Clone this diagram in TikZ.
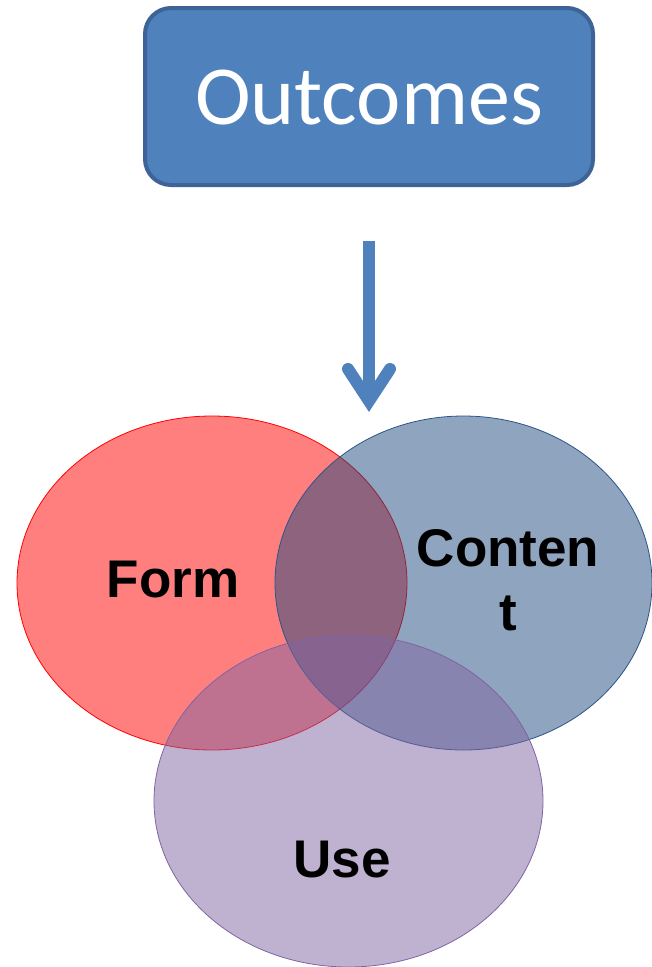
\documentclass[tikz,border=0pt]{standalone}
\usepackage{fontspec}
\setmainfont{Liberation Sans}
\newfontfamily\calib{Carlito}
\usetikzlibrary{shapes.geometric}
\definecolor{boxfill}{HTML}{4F81BD}
\definecolor{boxline}{HTML}{3E6497}
\definecolor{formc}{HTML}{FF0000}
\definecolor{contc}{HTML}{1F497D}
\definecolor{usec}{HTML}{8064A2}
\definecolor{contline}{HTML}{2C5588}
\tikzset{
  titlebox/.style={draw=boxline, fill=boxfill, line width=4pt, rounded corners=26pt,
    minimum width=448pt, minimum height=177pt, inner sep=0pt, text=white,
    text height=55pt, text depth=0pt,
    font=\calib\fontsize{84}{90}\selectfont},
  venn/.style={line width=0.8pt, fill opacity=0.5, draw opacity=1},
  lbl/.style={font=\bfseries\fontsize{53}{64}\selectfont, text=black, align=center, inner sep=0pt},
  arrowline/.style={draw=boxfill, line width=12pt},
}
\begin{document}
\begin{tikzpicture}[x=1pt, y=-1pt]
\useasboundingbox (0,0) rectangle (652,967);
\node[titlebox] (outcomes) at (369,96.5) {Outcomes};
% arrow
\coordinate (atop) at (369,241);
\coordinate (avert) at (369,401);
\coordinate (aleft) at (348,369);
\coordinate (aright) at (390,369);
\draw[arrowline, line cap=butt] (atop) -- (avert);
\draw[arrowline, line cap=round, line join=miter] (aleft) -- (avert) -- (aright);
% venn
\coordinate (form) at (212,583);
\coordinate (content) at (463.5,583);
\coordinate (use) at (348.5,801);
\path[venn, draw=formc, fill=formc] (form) ellipse [x radius=195, y radius=167];
\path[venn, draw=contline, fill=contc] (content) ellipse [x radius=188.5, y radius=167];
\path[venn, draw=usec, fill=usec] (use) ellipse [x radius=194.5, y radius=166];
% labels
\node[lbl, anchor=base] (formlbl) at (173,597) {Form};
\node[lbl] (contlbl) at (508,580) {Conten\\t};
\node[lbl, anchor=base] (uselbl) at (342,877) {Use};
\end{tikzpicture}
\end{document}
